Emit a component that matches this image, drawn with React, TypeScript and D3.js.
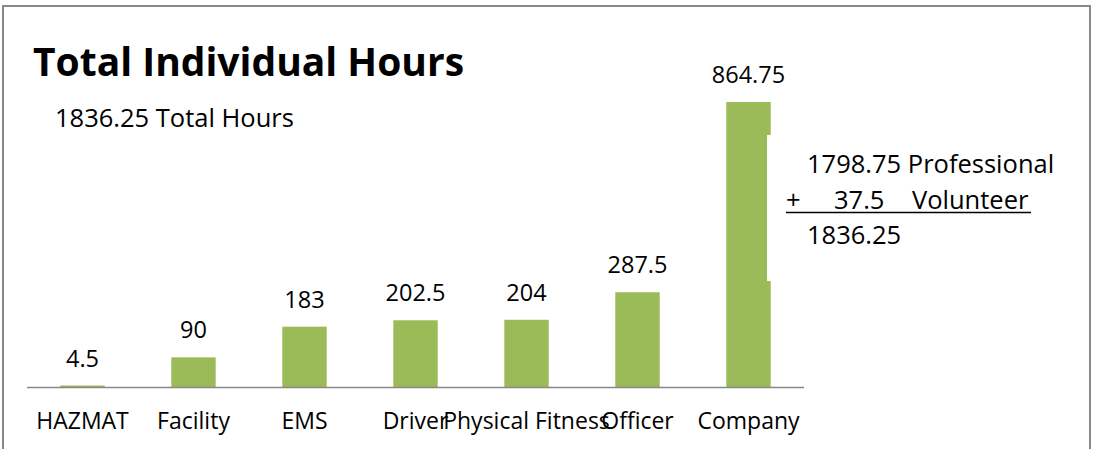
import React from "react";
import * as d3 from "d3";

const categories = ["HAZMAT", "Facility", "EMS", "Driver", "Physical Fitness", "Officer", "Company"];
const hours = [4.5, 90, 183, 202.5, 204, 287.5, 864.75];
const valueLabels = ["4.5", "90", "183", "202.5", "204", "287.5", "864.75"];
const title = "Total Individual Hours";
const subtitle = "1836.25 Total Hours";
const breakdown = ["1798.75 Professional", "+", "37.5", "Volunteer", "1836.25"];

const W = 1094;
const H = 449;
const FONT = "'Open Sans', 'Noto Sans', sans-serif";
const GREEN = "#9BBB59";

export default function App() {
  const x = d3.scaleBand<string>().domain(categories).range([27, 804]).padding(0);
  const y = d3.scaleLinear().domain([0, 900]).range([387, 90.4]);
  const bw = x.bandwidth() * 0.4;

  return (
    <svg width={W} height={H} style={{ position: "absolute", left: 0, top: 0, background: "#fff" }}>
      <rect x={3} y={6} width={1087} height={470} fill="#fff" stroke="#888" strokeWidth={2} />
      <text x={33} y={76} fontFamily={FONT} fontWeight="bold" fontSize={39} fill="#000">{title}</text>
      <text x={55} y={127} fontFamily={FONT} fontSize={25.5} fill="#000">{subtitle}</text>

      {categories.map((c, i) => {
        const cx = (x(c) as number) + x.bandwidth() / 2;
        return (
          <g key={c}>
            <rect x={cx - bw / 2} y={y(hours[i])} width={bw} height={y(0) - y(hours[i])} fill={GREEN} />
            <text x={cx} y={y(hours[i]) - 19} textAnchor="middle" fontFamily={FONT} fontSize={23.5} fill="#000">
              {valueLabels[i]}
            </text>
            <text x={cx} y={429} textAnchor="middle" fontFamily={FONT} fontSize={23} fill="#000">{c}</text>
          </g>
        );
      })}
      <line x1={27} x2={804} y1={y(0) + 0.5} y2={y(0) + 0.5} stroke="#888" strokeWidth={1.5} />

      <rect x={767} y={135} width={295} height={146} fill="#fff" />
      <text x={807} y={172.5} fontFamily={FONT} fontSize={25.5} fill="#000">{breakdown[0]}</text>
      <text x={786} y={208.5} fontFamily={FONT} fontSize={25.5} fill="#000">{breakdown[1]}</text>
      <text x={834} y={208.5} fontFamily={FONT} fontSize={25.5} fill="#000">{breakdown[2]}</text>
      <text x={912} y={208.5} fontFamily={FONT} fontSize={25.5} fill="#000">{breakdown[3]}</text>
      <line x1={786} x2={1031} y1={212.5} y2={212.5} stroke="#000" strokeWidth={1.5} />
      <text x={807} y={244} fontFamily={FONT} fontSize={25.5} fill="#000">{breakdown[4]}</text>
    </svg>
  );
}
